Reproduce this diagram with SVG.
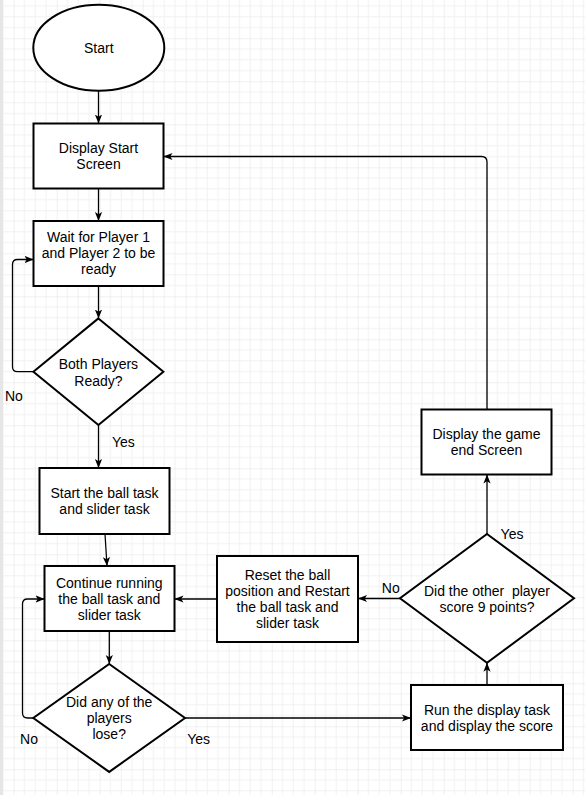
<svg xmlns="http://www.w3.org/2000/svg" width="585" height="795" viewBox="0 0 585 795">
<defs>
<pattern id="grid" patternUnits="userSpaceOnUse" x="13.7" y="38.3" width="43" height="43">
<path d="M10.75,0 V43 M21.5,0 V43 M32.25,0 V43 M0,10.75 H43 M0,21.5 H43 M0,32.25 H43" stroke="#f1f1f1" stroke-width="1" fill="none"/>
<path d="M0,0 V43 M0,0 H43" stroke="#e2e2e2" stroke-width="1" fill="none"/>
</pattern>
<marker id="arr" viewBox="0 0 10 10" refX="10" refY="5" markerWidth="9" markerHeight="9" markerUnits="userSpaceOnUse" orient="auto">
<path d="M0,1 L10,5 L0,9 L2.5,5 z" fill="#000"/>
</marker>
<style>
.n{fill:#fff;stroke:#000;stroke-width:2}
.e{fill:none;stroke:#000;stroke-width:1.3;marker-end:url(#arr)}
text{font-family:"Liberation Sans",Arial,sans-serif;font-size:14px;fill:#000;text-anchor:middle}
</style>
</defs>
<rect width="585" height="795" fill="#fff"/>
<rect width="585" height="795" fill="url(#grid)"/>
<rect x="0" y="0" width="3" height="795" fill="#e6e6e6"/>

<g id="edges">
<path class="e" d="M98.5,91 V123.5"/>
<path class="e" d="M98.5,188.5 V221"/>
<path class="e" d="M98.5,286 V318.5"/>
<path class="e" d="M33.5,371.7 H17.5 Q12.5,371.7 12.5,366.7 V264.5 Q12.5,259.5 17.5,259.5 H33.5"/>
<path class="e" d="M98.5,425 V468"/>
<path class="e" d="M105,534 L107,566"/>
<path class="e" d="M109.3,631 V664"/>
<path class="e" d="M33.5,718 H27.5 Q22.5,718 22.5,713 V604 Q22.5,599 27.5,599 H44.5"/>
<path class="e" d="M185,718 H411"/>
<path class="e" d="M487,685 V662.7"/>
<path class="e" d="M400,598.5 H358"/>
<path class="e" d="M217,599 H174.5"/>
<path class="e" d="M487,534 V474.5"/>
<path class="e" d="M487,409.5 V162 Q487,156.5 481.5,156.5 H163.5"/>
<text x="13.9" y="401">No</text>
<text x="123.3" y="446.7">Yes</text>
<text x="29" y="744">No</text>
<text x="198.7" y="744">Yes</text>
<text x="390.8" y="593.3">No</text>
<text x="512" y="539">Yes</text>
</g>

<g id="start">
<ellipse class="n" cx="98.8" cy="47.8" rx="65.5" ry="43"/>
<text x="98.8" y="53.3">Start</text>
</g>
<g id="display-start">
<rect class="n" x="33.5" y="123.5" width="130" height="65"/>
<text x="98.5" y="152.7">Display Start</text>
<text x="98.5" y="169.3">Screen</text>
</g>
<g id="wait">
<rect class="n" x="33.5" y="221" width="130" height="65"/>
<text x="98.5" y="242.3">Wait for Player 1</text>
<text x="98.5" y="258.3">and Player 2 to be</text>
<text x="98.5" y="274.3">ready</text>
</g>
<g id="both-ready">
<polygon class="n" points="98.4,318.4 163.4,371.7 98.4,425 33.4,371.7"/>
<text x="98.4" y="369.3">Both Players</text>
<text x="98.4" y="386">Ready?</text>
</g>
<g id="start-ball">
<rect class="n" x="39.5" y="468" width="130" height="66"/>
<text x="104.5" y="497.6">Start the ball task</text>
<text x="104.5" y="514.4">and slider task</text>
</g>
<g id="continue">
<rect class="n" x="44.5" y="566" width="130" height="65"/>
<text x="109.3" y="588.3">Continue running</text>
<text x="109.3" y="604.3">the ball task and</text>
<text x="109.3" y="620">slider task</text>
</g>
<g id="lose">
<polygon class="n" points="109.2,664 185,718 109.2,771.9 33.3,718"/>
<text x="109.2" y="707.3">Did any of the</text>
<text x="109.2" y="723.3">players</text>
<text x="109.2" y="739">lose?</text>
</g>
<g id="reset">
<rect class="n" x="217" y="556" width="141" height="86"/>
<text x="287.5" y="580">Reset the ball</text>
<text x="287.5" y="596">position and Restart</text>
<text x="287.5" y="611.7">the ball task and</text>
<text x="287.5" y="627.7">slider task</text>
</g>
<g id="score9">
<polygon class="n" points="487,534 574,598.3 487,662.7 400,598.3"/>
<text x="487" y="596" xml:space="preserve">Did the other  player</text>
<text x="487" y="612.3">score 9 points?</text>
</g>
<g id="run-display">
<rect class="n" x="411" y="685" width="152" height="65"/>
<text x="487" y="715">Run the display task</text>
<text x="487" y="731">and display the score</text>
</g>
<g id="game-end">
<rect class="n" x="421.5" y="409.5" width="130" height="65"/>
<text x="486.5" y="439.3">Display the game</text>
<text x="486.5" y="455">end Screen</text>
</g>
</svg>
